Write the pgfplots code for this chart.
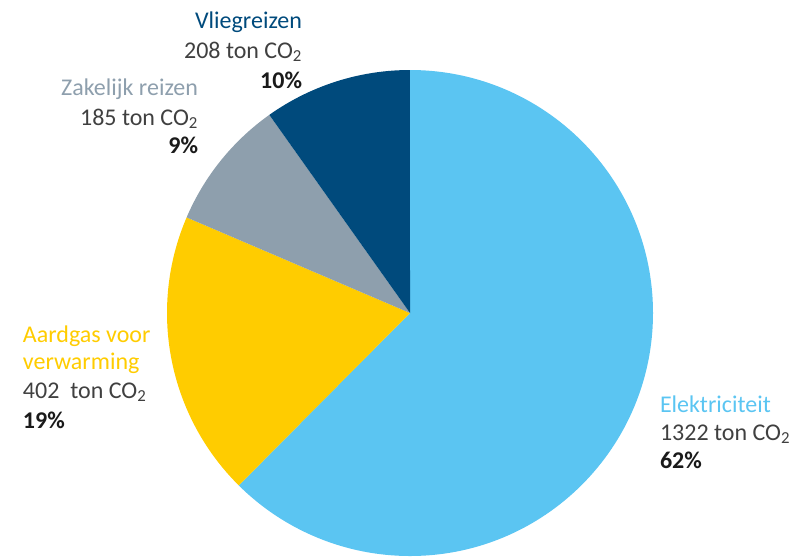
\documentclass[border=0pt]{standalone}
\usepackage{pgfplots}
\pgfplotsset{compat=1.18}
\usepackage{pgfplotstable}
\usepackage{fontspec}
\setmainfont{Carlito}
\definecolor{elec}{HTML}{5BC5F2}
\definecolor{gas}{HTML}{FFCC00}
\definecolor{zak}{HTML}{8E9FAD}
\definecolor{vlieg}{HTML}{004A7C}
\definecolor{numtxt}{HTML}{404040}
\definecolor{pcttxt}{HTML}{1A1A1A}
\pgfplotstableread{
name value
Elektriciteit 1322
Aardgas 402
Zakelijk 185
Vliegreizen 208
}\piedata
\pgfplotstablegetelem{0}{value}\of\piedata \let\vA\pgfplotsretval
\pgfplotstablegetelem{1}{value}\of\piedata \let\vB\pgfplotsretval
\pgfplotstablegetelem{2}{value}\of\piedata \let\vC\pgfplotsretval
\pgfplotstablegetelem{3}{value}\of\piedata \let\vD\pgfplotsretval
\pgfmathsetmacro\tot{\vA+\vB+\vC+\vD}
\pgfmathsetmacro\aA{90-360*(\vA/\tot)}
\pgfmathsetmacro\aB{\aA-360*(\vB/\tot)}
\pgfmathsetmacro\aC{\aB-360*(\vC/\tot)}
\pgfmathsetmacro\aD{\aC-360*(\vD/\tot)}
\begin{document}%
\begin{tikzpicture}[lbl/.style={font=\fontsize{24}{28}\selectfont, inner sep=0pt, outer sep=0pt}]
\begin{axis}[
  scale only axis, width=793pt, height=558pt,
  xmin=0, xmax=793, ymin=0, ymax=558, y dir=reverse,
  hide axis, clip=false,
]
\coordinate (bl) at (axis cs:0,558);
\coordinate (tr) at (axis cs:793,0);
\fill[elec] (axis cs:410,313) -- ++(90:243pt) arc[start angle=90, end angle=\aA, radius=243pt] -- cycle;
\fill[gas] (axis cs:410,313) -- ++(\aA:243pt) arc[start angle=\aA, end angle=\aB, radius=243pt] -- cycle;
\fill[zak] (axis cs:410,313) -- ++(\aB:243pt) arc[start angle=\aB, end angle=\aC, radius=243pt] -- cycle;
\fill[vlieg] (axis cs:410,313) -- ++(\aC:243pt) arc[start angle=\aC, end angle=\aD, radius=243pt] -- cycle;
% Vliegreizen
\node[lbl, anchor=base east, text=vlieg] at (axis cs:302,28) {Vliegreizen};
\node[lbl, anchor=base east, text=numtxt] at (axis cs:302,58) {208 ton CO\textsubscript{2}};
\node[lbl, anchor=base east, text=pcttxt] at (axis cs:302,88) {\bfseries 10\%};
% Zakelijk
\node[lbl, anchor=base east, text=zak] at (axis cs:198,95) {Zakelijk reizen};
\node[lbl, anchor=base east, text=numtxt] at (axis cs:198,125) {185 ton CO\textsubscript{2}};
\node[lbl, anchor=base east, text=pcttxt] at (axis cs:198,153) {\bfseries 9\%};
% Aardgas
\node[lbl, anchor=base west, text=gas] at (axis cs:23,342) {Aardgas voor};
\node[lbl, anchor=base west, text=gas] at (axis cs:23,369) {verwarming};
\node[lbl, anchor=base west, text=numtxt] at (axis cs:23,398) {402\ \ ton CO\textsubscript{2}};
\node[lbl, anchor=base west, text=pcttxt] at (axis cs:23,428) {\bfseries 19\%};
% Elektriciteit
\node[lbl, anchor=base west, text=elec] at (axis cs:660,412) {Elektriciteit};
\node[lbl, anchor=base west, text=numtxt] at (axis cs:660,440) {1322 ton CO\textsubscript{2}};
\node[lbl, anchor=base west, text=pcttxt] at (axis cs:660,468) {\bfseries 62\%};
\end{axis}
\pgfresetboundingbox
\useasboundingbox (bl) rectangle (tr);
\end{tikzpicture}%
\end{document}
